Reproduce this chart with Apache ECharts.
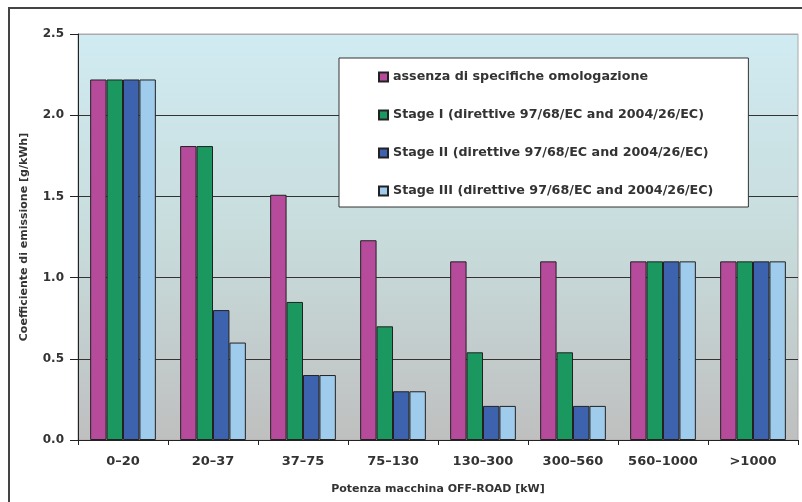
<!DOCTYPE html>
<html>
<head>
<meta charset="utf-8">
<script src="https://cdn.jsdelivr.net/npm/echarts@6/dist/echarts.min.js"></script>
<style>
  html, body { margin: 0; padding: 0; background: #fff; }
  #chart { width: 802px; height: 502px; }
</style>
</head>
<body>
<div id="chart"></div>
<script>
// Engine power classes (kW)
const categories = ['0\u201320', '20\u201337', '37\u201375', '75\u2013130', '130\u2013300', '300\u2013560', '560\u20131000', '>1000'];

// Emission coefficients [g/kWh] per approval level
const noApproval = [2.22, 1.81, 1.51, 1.23, 1.10, 1.10, 1.10, 1.10];
const stageI     = [2.22, 1.81, 0.85, 0.70, 0.54, 0.54, 1.10, 1.10];
const stageII    = [2.22, 0.80, 0.40, 0.30, 0.21, 0.21, 1.10, 1.10];
const stageIII   = [2.22, 0.60, 0.40, 0.30, 0.21, 0.21, 1.10, 1.10];

const seriesNames = [
  'assenza di specifiche omologazione',
  'Stage I (direttive 97/68/EC and 2004/26/EC)',
  'Stage II (direttive 97/68/EC and 2004/26/EC)',
  'Stage III (direttive 97/68/EC and 2004/26/EC)'
];
const seriesData = [noApproval, stageI, stageII, stageIII];
const seriesColors = ['#b64a9b', '#1b9860', '#3e63ae', '#9fcbec'];

const yTicks = { min: 0, max: 2.5, interval: 0.5 };

const font = '"DejaVu Sans", Verdana, sans-serif';

const chart = echarts.init(document.getElementById('chart'), null, { renderer: 'canvas' });

chart.setOption({
  animation: false,
  backgroundColor: '#ffffff',
  textStyle: { fontFamily: font },
  graphic: [{
    type: 'rect',
    silent: true,
    z: -10,
    shape: { x: 9, y: 8, width: 820, height: 520 },
    style: { fill: 'none', stroke: '#444', lineWidth: 2 }
  }],
  grid: {
    left: 78, right: 4, top: 34, bottom: 62,
    show: true,
    borderColor: '#aaaaaa',
    borderWidth: 1,
    backgroundColor: new echarts.graphic.LinearGradient(0, 0, 0, 1, [
      { offset: 0, color: '#d0ebf2' },
      { offset: 0.5, color: '#c8dcdc' },
      { offset: 1, color: '#bfbfbf' }
    ])
  },
  legend: {
    orient: 'vertical',
    left: 339,
    top: 58,
    padding: [12, 35, 9, 39],
    itemGap: 24,
    itemWidth: 9,
    itemHeight: 9,
    icon: 'rect',
    backgroundColor: '#ffffff',
    borderColor: '#333333',
    borderWidth: 1,
    textStyle: { fontSize: 12.7, fontWeight: 'bold', color: '#333', fontFamily: font, lineHeight: 14 },
    data: seriesNames
  },
  xAxis: {
    type: 'category',
    data: categories,
    name: 'Potenza macchina OFF-ROAD [kW]',
    nameLocation: 'middle',
    nameGap: 44,
    nameTextStyle: { fontSize: 11, fontWeight: 'bold', color: '#333', fontFamily: font },
    axisLine: { lineStyle: { color: '#222', width: 1 } },
    axisTick: { show: true, length: 5, interval: 0, lineStyle: { color: '#222' } },
    axisLabel: { interval: 0, margin: 15, fontSize: 13, fontWeight: 'bold', color: '#333', fontFamily: font },
    splitLine: { show: false }
  },
  yAxis: {
    type: 'value',
    min: yTicks.min,
    max: yTicks.max,
    interval: yTicks.interval,
    name: 'Coefficiente di emissione [g/kWh]',
    nameLocation: 'middle',
    nameGap: 48,
    nameRotate: 90,
    nameTextStyle: { fontSize: 11, fontWeight: 'bold', color: '#333', fontFamily: font },
    axisLine: { show: true, lineStyle: { color: '#222', width: 1 } },
    axisTick: { show: true, length: 8, lineStyle: { color: '#222' } },
    axisLabel: {
      margin: 14, fontSize: 12, fontWeight: 'bold', color: '#333', fontFamily: font,
      formatter: v => v.toFixed(1)
    },
    splitLine: { show: true, lineStyle: { color: ['#333', '#333', '#333', '#333', '#333', '#aaa'], width: 1 } }
  },
  series: seriesNames.map((name, i) => ({
    name,
    type: 'bar',
    data: seriesData[i],
    barGap: '0%',
    barCategoryGap: '27%',
    itemStyle: { color: seriesColors[i], borderColor: '#222', borderWidth: 1 }
  }))
});
</script>
</body>
</html>
